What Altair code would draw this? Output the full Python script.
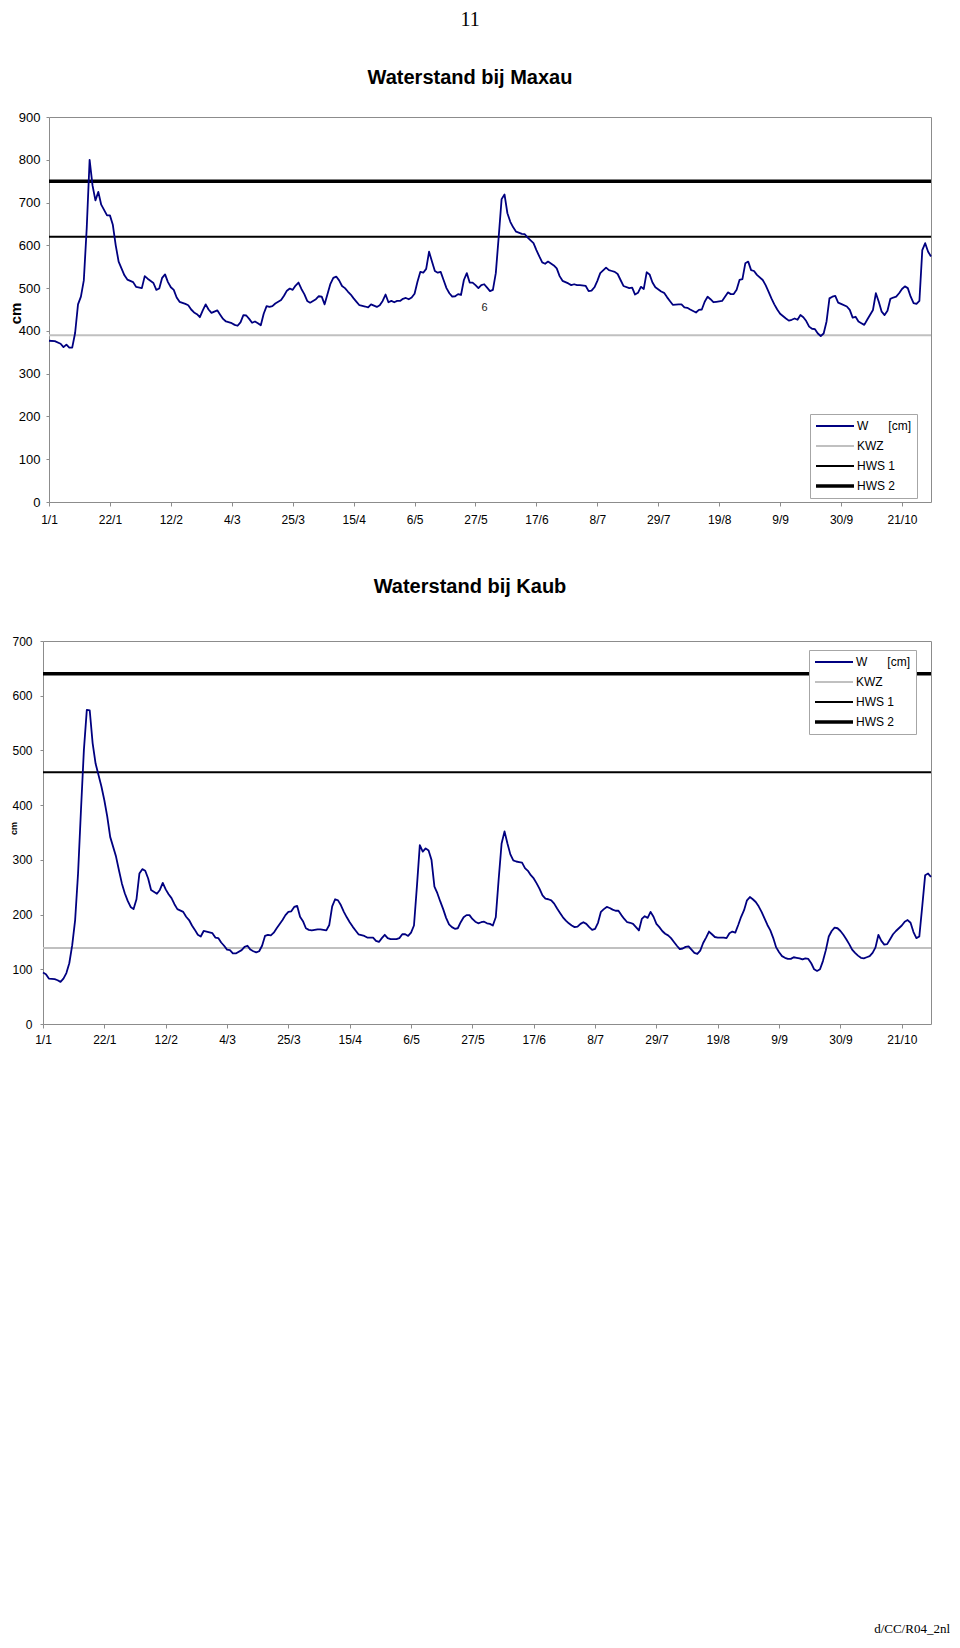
import altair as alt
import pandas as pd

FONT = "Liberation Sans, Arial, Helvetica, sans-serif"
SERIF = "Liberation Serif, Times New Roman, serif"
FRAME = "#8c8c8c"

START = "2004-01-01"
END = "2004-10-31"
TICK_DATES = ["2004-01-01", "2004-01-22", "2004-02-12", "2004-03-04", "2004-03-25",
              "2004-04-15", "2004-05-06", "2004-05-27", "2004-06-17", "2004-07-08",
              "2004-07-29", "2004-08-19", "2004-09-09", "2004-09-30", "2004-10-21"]

NB = "\u00a0"
SERIES = ["W" + NB * 6 + "[cm]", "KWZ", "HWS 1", "HWS 2"]
COLORS = ["#000080", "#c0c0c0", "#000000", "#000000"]
LEVEL_WIDTHS = [2.0, 2.0, 3.5]
W_WIDTH = 1.8

# ---- Maxau: day index from 1 Jan 2004, water level W [cm]
MAXAU_DAYS = [0, 2, 4, 5, 6, 7, 8, 9, 10, 11,
              12, 13, 14, 15, 16, 17, 18, 20, 21, 22,
              23, 24, 26, 27, 29, 30, 32, 33, 34, 36,
              37, 38, 39, 40, 41, 42, 43, 44, 45, 47,
              48, 49, 50, 51, 52, 53, 54, 55, 56, 58,
              59, 60, 61, 63, 64, 65, 66, 67, 68, 69,
              70, 71, 72, 73, 74, 75, 76, 77, 78, 80,
              81, 82, 83, 84, 85, 86, 87, 88, 89, 90,
              91, 92, 93, 94, 95, 97, 98, 99, 100, 101,
              102, 103, 104, 105, 106, 107, 109, 110, 111, 112,
              113, 114, 115, 116, 117, 118, 119, 120, 121, 122,
              123, 124, 125, 126, 127, 128, 129, 130, 131, 132,
              133, 134, 135, 136, 137, 138, 139, 140, 141, 142,
              143, 144, 145, 146, 147, 148, 149, 150, 151, 152,
              153, 154, 155, 156, 157, 158, 159, 160, 161, 163,
              164, 165, 167, 168, 169, 170, 171, 172, 174, 175,
              176, 177, 179, 180, 181, 182, 183, 185, 186, 187,
              188, 189, 190, 192, 193, 194, 195, 196, 197, 198,
              200, 201, 202, 203, 204, 205, 206, 207, 208, 209,
              211, 212, 213, 214, 215, 217, 218, 219, 220, 221,
              223, 224, 225, 226, 227, 228, 229, 230, 232, 233,
              234, 235, 236, 237, 238, 239, 240, 241, 242, 243,
              244, 246, 247, 248, 249, 250, 251, 252, 254, 255,
              256, 257, 258, 259, 260, 261, 262, 263, 264, 265,
              266, 267, 268, 269, 270, 271, 272, 273, 275, 276,
              277, 278, 279, 280, 281, 282, 284, 285, 286, 287,
              288, 289, 290, 291, 292, 293, 294, 295, 296, 297,
              298, 299, 300, 301, 302, 303, 304]
MAXAU_W = [377, 376, 370, 362, 368, 361, 361, 395, 462, 480,
           518, 640, 800, 740, 705, 725, 695, 670, 670, 648,
           600, 562, 530, 520, 514, 503, 500, 528, 522, 512,
           496, 499, 524, 532, 514, 502, 496, 478, 468, 463,
           460, 450, 443, 439, 432, 448, 462, 450, 442, 448,
           438, 428, 422, 418, 414, 412, 420, 437, 436, 428,
           419, 422, 418, 413, 440, 458, 456, 458, 464, 472,
           482, 494, 499, 496, 506, 513, 498, 486, 470, 466,
           470, 474, 481, 480, 462, 510, 524, 527, 518, 505,
           500, 492, 485, 476, 468, 460, 457, 455, 462, 459,
           456, 460, 470, 485, 467, 470, 467, 470, 470, 475,
           477, 474, 478, 487, 515, 538, 536, 545, 585, 562,
           540, 536, 538, 519, 500, 488, 480, 481, 486, 484,
           519, 535, 513, 513, 507, 500, 507, 509, 501, 493,
           496, 535, 620, 708, 719, 675, 655, 642, 632, 627,
           626, 618, 605, 589, 574, 560, 557, 562, 553, 546,
           528, 517, 511, 507, 509, 507, 507, 505, 493, 494,
           502, 517, 535, 548, 542, 540, 538, 533, 519, 505,
           500, 501, 485, 489, 503, 498, 537, 532, 513, 502,
           492, 489, 479, 470, 461, 462, 462, 455, 454, 450,
           443, 449, 450, 468, 480, 474, 467, 468, 470, 480,
           490, 486, 486, 496, 519, 521, 558, 562, 542, 540,
           531, 519, 507, 492, 476, 462, 450, 440, 429, 424,
           426, 429, 426, 437, 432, 423, 410, 405, 404, 394,
           388, 394, 422, 476, 480, 482, 466, 463, 457, 449,
           431, 433, 422, 418, 414, 426, 449, 488, 468, 445,
           437, 447, 475, 478, 480, 488, 498, 504, 500, 480,
           465, 463, 470, 589, 605, 585, 574]
MAXAU_LEVELS = [390, 620, 750]          # KWZ, HWS 1, HWS 2
MAXAU_Y_TICKS = [0, 100, 200, 300, 400, 500, 600, 700, 800, 900]

# ---- Kaub
KAUB_DAYS = [0, 1, 2, 4, 5, 6, 7, 8, 9, 10,
             11, 12, 13, 14, 15, 16, 17, 18, 19, 20,
             21, 22, 23, 25, 26, 27, 28, 29, 30, 31,
             32, 33, 34, 35, 36, 37, 39, 40, 41, 42,
             43, 44, 45, 46, 48, 49, 50, 51, 52, 53,
             54, 55, 56, 58, 59, 60, 61, 62, 63, 64,
             65, 66, 68, 69, 70, 71, 72, 73, 74, 75,
             76, 77, 78, 79, 80, 82, 83, 84, 85, 86,
             87, 88, 89, 90, 91, 92, 94, 95, 96, 97,
             98, 99, 100, 101, 102, 103, 104, 105, 106, 107,
             108, 110, 111, 112, 113, 114, 115, 116, 117, 118,
             119, 121, 122, 123, 124, 125, 126, 127, 128, 129,
             130, 131, 132, 133, 134, 135, 136, 137, 138, 139] + list(range(140, 305))
KAUB_W = [94, 91, 83, 82, 80, 77, 83, 93, 111, 144,
          190, 275, 391, 501, 574, 573, 513, 476, 455, 434,
          409, 379, 342, 306, 281, 257, 239, 225, 214, 210,
          228, 275, 283, 280, 266, 245, 238, 245, 258, 246,
          237, 230, 219, 210, 205, 196, 190, 180, 172, 163,
          160, 170, 169, 166, 158, 157, 149, 143, 136, 135,
          129, 129, 135, 141, 143, 136, 133, 131, 133, 143,
          161, 163, 162, 167, 175, 190, 199, 205, 206, 214,
          216, 196, 188, 175, 172, 171, 173, 173, 172, 171,
          181, 215, 228, 226, 217, 205, 195, 186, 178, 171,
          164, 161, 158, 158, 158, 152, 150, 157, 163, 157,
          155, 155, 157, 164, 164, 161, 167, 180, 251, 327,
          315, 321, 317, 300, 251, 239, 224, 210, 194, 182,
          177, 174, 175, 186, 195, 199, 199, 192, 187, 184,
          186, 187, 184, 183, 180, 195, 265, 330, 352, 330,
          310, 299, 297, 296, 295, 285, 280, 272, 266, 257,
          247, 235, 229, 228, 226, 220, 211, 203, 195, 189,
          184, 180, 177, 178, 183, 186, 183, 177, 172, 174,
          185, 205, 210, 214, 212, 209, 207, 207, 199, 192,
          186, 185, 183, 177, 171, 192, 197, 194, 205, 196,
          183, 177, 170, 165, 162, 157, 150, 143, 137, 138,
          141, 142, 136, 130, 128, 134, 148, 158, 169, 164,
          159, 158, 158, 158, 157, 166, 169, 167, 181, 196,
          208, 226, 232, 228, 223, 215, 205, 193, 181, 171,
          157, 140, 131, 124, 121, 119, 119, 122, 121, 120,
          118, 120, 119, 111, 100, 97, 100, 115, 135, 160,
          170, 176, 175, 170, 163, 155, 146, 136, 130, 125,
          121, 120, 122, 124, 130, 140, 163, 152, 145, 146,
          155, 164, 170, 175, 180, 187, 190, 185, 168, 157,
          160, 215, 272, 275, 269]
KAUB_LEVELS = [139, 460, 640]
KAUB_Y_TICKS = [0, 100, 200, 300, 400, 500, 600, 700]

PAGE_NUMBER = ["11"]
STRAY_LABEL = ["6"]
FOOTER = ["d/CC/R04_2nl"]
MAXAU_TITLE = ["Waterstand bij Maxau"]
KAUB_TITLE = ["Waterstand bij Kaub"]


def to_dt(s):
    y, m, d = (int(p) for p in s.split("-"))
    return alt.DateTime(year=y, month=m, date=d)


def text_layer(values, x, y, font, size, align, color="black", weight="normal"):
    df = pd.DataFrame({"t": values})
    return alt.Chart(df).mark_text(font=font, fontSize=size, align=align, fontWeight=weight,
                                   baseline="alphabetic", color=color).encode(
        text="t:N", x=alt.value(x), y=alt.value(y))


def anchor_layer(x, y):
    # invisible zero-length rule fixing the top-left corner of the page layout
    df = pd.DataFrame({"a": [0]})
    return alt.Chart(df).mark_rule(opacity=0, strokeWidth=0).encode(
        x=alt.value(x), x2=alt.value(x), y=alt.value(y), y2=alt.value(y))


def panel(days, values, levels, y_max, y_ticks, height, x_range, y_offset,
          y_label_pad, y_label_size, x_label_pad, legend_x, legend_y,
          cm_size, cm_x, cm_y, extra_layers):
    base = pd.Timestamp(START)
    w_df = pd.DataFrame({"date": base + pd.to_timedelta(days, unit="D"),
                         "value": values, "series": SERIES[0], "sw": W_WIDTH})
    rows = []
    for name, level, sw in zip(SERIES[1:], levels, LEVEL_WIDTHS):
        for d in (START, END):
            rows.append({"date": pd.Timestamp(d), "value": level, "series": name, "sw": sw})
    lv_df = pd.DataFrame(rows)

    xs = dict(domain=[to_dt(START), to_dt(END)])
    if x_range is not None:
        xs["range"] = x_range
    xscale = alt.Scale(**xs)
    yscale = alt.Scale(domain=[0, y_max], nice=False)

    legend = alt.Legend(
        title=None, orient="none", legendX=legend_x, legendY=legend_y,
        fillColor="white", strokeColor="#a6a6a6", padding=6, cornerRadius=0,
        symbolType="stroke", symbolSize=1444, symbolOffset=13,
        symbolStrokeWidth=alt.ExprRef(expr="datum.value === 'HWS 2' ? 3.5 : 1.8"),
        clipHeight=12, rowPadding=8,
        labelFont=FONT, labelFontSize=12, labelColor="black", labelOffset=16, labelLimit=300,
    )
    color = alt.Color("series:N", scale=alt.Scale(domain=SERIES, range=COLORS), legend=legend)
    width_enc = alt.StrokeWidth("sw:Q", scale=None)

    lv_layer = alt.Chart(lv_df).mark_line(strokeCap="butt").encode(
        x=alt.X("date:T", scale=xscale,
                axis=alt.Axis(orient="top", labels=False, ticks=False, domain=True,
                              domainColor=FRAME, title=None, grid=False)),
        y=alt.Y("value:Q", scale=yscale,
                axis=alt.Axis(orient="right", labels=False, ticks=False, domain=True,
                              domainColor=FRAME, title=None, grid=False)),
        color=color,
        strokeWidth=width_enc,
        detail="series:N",
    )

    w_layer = alt.Chart(w_df).mark_line(strokeJoin="round").encode(
        x=alt.X("date:T", scale=xscale,
                axis=alt.Axis(orient="bottom", values=[to_dt(s) for s in TICK_DATES],
                              format="%-d/%-m", labelAngle=0, labelFlush=False,
                              labelOverlap=False, labelFont=FONT, labelFontSize=12,
                              labelColor="black", labelPadding=x_label_pad, tickSize=4,
                              tickColor=FRAME, domainColor=FRAME, title=None, grid=False)),
        y=alt.Y("value:Q", scale=yscale,
                axis=alt.Axis(orient="left", values=y_ticks, offset=y_offset,
                              labelFont=FONT, labelFontSize=y_label_size, labelColor="black",
                              labelPadding=y_label_pad, tickSize=3, tickColor=FRAME,
                              domainColor=FRAME, grid=False,
                              title="cm", titleFont=FONT, titleFontSize=cm_size,
                              titleFontWeight="bold", titleColor="black",
                              titleAngle=270, titleX=cm_x, titleY=cm_y,
                              titleBaseline="alphabetic", titleAlign="center")),
        color=color,
        strokeWidth=width_enc,
    )

    return alt.layer(lv_layer, w_layer, *extra_layers).resolve_axis(
        x="independent", y="independent"
    ).properties(width=882, height=height)


maxau = panel(MAXAU_DAYS, MAXAU_W, MAXAU_LEVELS, 900, MAXAU_Y_TICKS,
              385, None, 0, 6, 13, 8, 761, 297, 15, -29, 196,
              [anchor_layer(-41, -109),
               text_layer(PAGE_NUMBER, 421, -91, SERIF, 20, "center"),
               text_layer(MAXAU_TITLE, 421, -33, FONT, 20, "center", weight="bold"),
               text_layer(STRAY_LABEL, 435.5, 194, FONT, 11, "center", "#222222")])

kaub = panel(KAUB_DAYS, KAUB_W, KAUB_LEVELS, 700, KAUB_Y_TICKS,
             383, [-6, 882], 6, 8, 12, 6, 760, 9, 9, -27, 187,
             [text_layer(KAUB_TITLE, 421, -48, FONT, 20, "center", weight="bold"),
              text_layer(FOOTER, 901, 992, SERIF, 13, "right")])

chart = alt.vconcat(maxau, kaub, spacing=139, bounds="flush").resolve_scale(
    color="independent"
).resolve_legend(
    color="independent"
).properties(
    padding=0,
    background="white",
).configure_view(stroke=None)

chart.save("out.html", embed_options={"renderer": "svg", "actions": False})
